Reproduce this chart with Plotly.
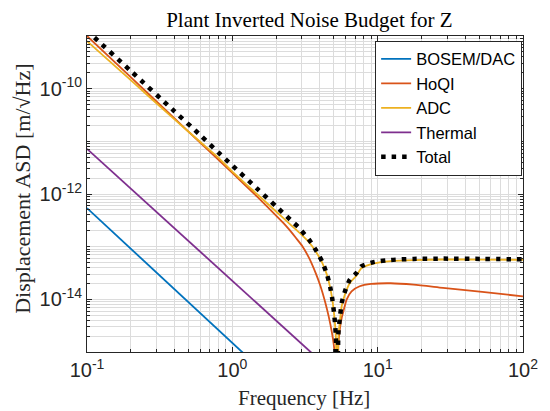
import plotly.graph_objects as go

# ---- noise curves (frequency in Hz, displacement ASD in m/sqrt(Hz)) ----
bosem_f = [0.1, 1.3]
bosem_asd = [5.4e-13, 7.6e-16]

thermal_f = [0.1, 3.8]
thermal_asd = [7.2e-12, 7.9e-16]

hoqi_f = [0.1, 0.2, 0.4, 0.6, 0.8, 1.0, 1.5, 2.0, 2.25, 2.448, 2.743, 3.042, 3.371, 3.741,
          4.043, 4.369, 4.598, 4.848, 5.047, 5.25, 5.37, 5.5, 5.66, 5.8, 6.116, 6.612,
          7.52, 9.02, 12.3, 17.66, 28.13, 52.35, 100]
hoqi_asd = [1.0e-9, 1.65e-10, 2.72e-11, 9.5e-12, 4.49e-12, 2.51e-12, 8.6e-13, 3.9e-13,
            2.8e-13, 2.15e-13, 1.46e-13, 1.01e-13, 6.11e-14, 3.17e-14, 1.77e-14, 8.56e-15,
            4.8e-15, 2.31e-15, 1.03e-15, 1e-17, 1.4e-15, 2.8e-15, 4.5e-15, 5.8e-15, 9.9e-15,
            1.42e-14, 1.77e-14, 1.96e-14, 2.02e-14, 1.9e-14, 1.65e-14, 1.38e-14, 1.14e-14]

adc_f = [0.1, 0.2, 0.4, 0.6, 0.8, 1.0, 1.5, 2.0, 2.5, 2.742, 3.0, 3.371, 3.741, 4.15,
         4.484, 4.721, 4.892, 5.047, 5.159, 5.25, 5.37, 5.513, 5.66, 5.959, 6.44, 7.145,
         7.72, 9.49, 12.3, 17.66, 28.13, 52.35, 100]
adc_asd = [8.0e-10, 1.45e-10, 2.61e-11, 9.8e-12, 4.92e-12, 2.67e-12, 9.6e-13, 4.66e-13,
           2.65e-13, 2.1e-13, 1.68e-13, 1.215e-13, 8.18e-14, 4.98e-14, 2.88e-14, 1.63e-14,
           9.2e-15, 4.39e-15, 1.9e-15, 1e-17, 1.95e-15, 4.1e-15, 7.5e-15, 1.25e-14,
           2.05e-14, 2.8e-14, 3.9e-14, 4.8e-14, 5.3e-14, 5.55e-14, 5.7e-14, 5.68e-14, 5.63e-14]

total_f = [0.1, 0.1122, 0.2, 0.4, 0.6, 0.8, 1.0, 1.5, 2.0, 2.5, 2.887, 3.0, 3.371, 3.741,
           4.15, 4.484, 4.721, 4.892, 5.047, 5.159, 5.25, 5.37, 5.513, 5.66, 5.959, 6.44,
           7.145, 7.72, 9.49, 12.3, 17.66, 28.13, 52.35, 100]
total_asd = [1.28e-9, 9.45e-10, 2.17e-10, 3.71e-11, 1.32e-11, 6.16e-12, 3.47e-12, 1.22e-12,
             5.82e-13, 3.27e-13, 2.26e-13, 1.99e-13, 1.36e-13, 8.77e-14, 5.2e-14, 2.95e-14,
             1.67e-14, 9.46e-15, 4.51e-15, 1.97e-15, 1e-17, 2.31e-15, 4.77e-15, 8.57e-15,
             1.42e-14, 2.37e-14, 3.17e-14, 4.23e-14, 5.13e-14, 5.6e-14, 5.85e-14, 5.93e-14,
             5.85e-14, 5.74e-14]

# ---- axis ticks ----
x_ticks = [0.1, 1, 10, 100]
x_ticktext = ["10<sup>-1</sup>", "10<sup>0</sup>", "10<sup>1</sup>", "10<sup>2</sup>"]
y_ticks = [1e-14, 1e-12, 1e-10]
y_ticktext = ["10<sup>-14</sup>", "10<sup>-12</sup>", "10<sup>-10</sup>"]

x_minor = [k * 10.0 ** n for n in range(-1, 2) for k in range(1, 10)] + [100.0]
y_minor = [k * 10.0 ** n for n in range(-15, -9) for k in range(1, 10)] + [1e-9]

fig = go.Figure()

series = [
    ("BOSEM/DAC", bosem_f, bosem_asd, "#0072BD"),
    ("HoQI", hoqi_f, hoqi_asd, "#D95319"),
    ("ADC", adc_f, adc_asd, "#EDB120"),
    ("Thermal", thermal_f, thermal_asd, "#7E2F8E"),
]
for name, f, a, c in series:
    fig.add_trace(go.Scatter(x=f, y=a, name=name, mode="lines",
                             line=dict(color=c, width=1.8, shape="spline", smoothing=0.6)))

fig.add_trace(go.Scatter(x=total_f, y=total_asd, name="Total", mode="lines",
                         line=dict(color="black", width=4.5, dash="4.5px,6px",
                                   shape="spline", smoothing=0.6)))

grid_col = "#dcdcdc"
axis_col = "#262626"
tick_font = dict(family="Liberation Sans, Arial, sans-serif", size=20, color="#262626")
serif = "Liberation Serif, Times New Roman, serif"

fig.update_xaxes(
    type="log", range=[-1, 2],
    tickmode="array", tickvals=x_ticks, ticktext=x_ticktext,
    showgrid=True, gridcolor=grid_col, gridwidth=1,
    showline=True, linecolor=axis_col, linewidth=1, mirror="ticks",
    ticks="inside", ticklen=5, tickcolor=axis_col,
    tickfont=tick_font, zeroline=False,
    minor=dict(tickmode="array", tickvals=x_minor, showgrid=True,
               gridcolor=grid_col, gridwidth=1, ticks="inside", ticklen=3,
               tickcolor=axis_col),
)
fig.update_yaxes(
    type="log", range=[-15, -9],
    tickmode="array", tickvals=y_ticks, ticktext=y_ticktext,
    showgrid=True, gridcolor=grid_col, gridwidth=1,
    showline=True, linecolor=axis_col, linewidth=1, mirror="ticks",
    ticks="inside", ticklen=5, tickcolor=axis_col,
    tickfont=tick_font, zeroline=False,
    minor=dict(tickmode="array", tickvals=y_minor, showgrid=True,
               gridcolor=grid_col, gridwidth=1, ticks="inside", ticklen=3,
               tickcolor=axis_col),
)

fig.update_layout(
    width=550, height=411,
    margin=dict(l=87, r=18, t=36, b=58.5),
    paper_bgcolor="white", plot_bgcolor="white",
    title=dict(text="Plant Inverted Noise Budget for Z", x=0.5625, xanchor="center",
               y=1 - 20 / 411, yanchor="middle",
               font=dict(family=serif, size=21, color="black")),
    legend=dict(x=0.998, xanchor="right", y=0.985, yanchor="top",
                bgcolor="white", bordercolor=axis_col, borderwidth=1,
                font=dict(family="Liberation Sans, Arial, sans-serif", size=16.5, color="black"),
                itemwidth=30, tracegroupgap=0),
    annotations=[
        dict(text="Frequency [Hz]", xref="paper", yref="paper", x=0.497, y=-0.144,
             xanchor="center", yanchor="middle", showarrow=False,
             font=dict(family=serif, size=21, color="#262626")),
        dict(text="Displacement ASD [m/\u221aHz]", xref="paper", yref="paper",
             x=-0.148, y=0.518, xanchor="center", yanchor="middle", textangle=-90,
             showarrow=False, font=dict(family=serif, size=22, color="#262626")),
    ],
)

fig.write_html("out.html")
